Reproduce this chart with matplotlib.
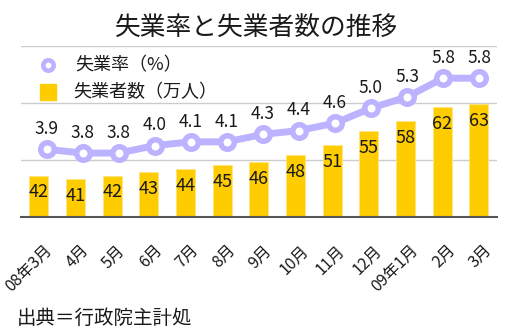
import numpy as np
import matplotlib
matplotlib.use('Agg')
import matplotlib.pyplot as plt
from matplotlib.lines import Line2D
from matplotlib.transforms import ScaledTranslation

plt.rcParams['font.family'] = ['Noto Sans CJK JP', 'DejaVu Sans']

# data
months = ['08年3月', '4月', '5月', '6月', '7月', '8月', '9月', '10月',
          '11月', '12月', '09年1月', '2月', '3月']
unemp_rate = [3.9, 3.8, 3.8, 4.0, 4.1, 4.1, 4.3, 4.4, 4.6, 5.0, 5.3, 5.8, 5.8]
unemp_count = [42, 41, 42, 43, 44, 45, 46, 48, 51, 55, 58, 62, 63]

LAV = '#bbb3ff'
GOLD = '#ffcc00'
TXT = '#1a1a1a'

fig = plt.figure(figsize=(5.06, 3.35), dpi=100)
rect = [0.0421, 0.3531, 0.9407, 0.5096]

# bars (unemployed, 10k people)
ax = fig.add_axes(rect)
x = np.arange(len(months))
ax.bar(x, unemp_count, width=0.52, color=GOLD, edgecolor='#ffe680', linewidth=0.6, zorder=2)
ax.set_xlim(-0.48, 12.5)
ax.set_ylim(30, 80)
ax.set_yticks(np.linspace(30, 80, 4))
ax.yaxis.grid(True, color='#cccccc', linewidth=1)
ax.set_axisbelow(True)
ax.tick_params(axis='y', left=False, labelleft=False)
for s in ['left', 'right', 'top']:
    ax.spines[s].set_visible(False)
ax.spines['bottom'].set_color('#555555')
ax.spines['bottom'].set_linewidth(1.5)
ax.set_xticks(x)
ax.set_xticklabels(months, rotation=45, ha='right', va='center',
                   rotation_mode='anchor', fontsize=11.5, color=TXT)
ax.tick_params(axis='x', length=0, pad=22.5)
shift = ScaledTranslation(7.5 / 72, 0, fig.dpi_scale_trans)
for lbl in ax.get_xticklabels():
    lbl.set_transform(lbl.get_transform() + shift)
for xi, v in zip(x, unemp_count):
    ax.annotate(str(v), (xi, v), xytext=(0, -12), textcoords='offset points',
                ha='center', va='center', fontsize=13, color=TXT)

# line (unemployment rate %)
ax2 = fig.add_axes(rect)
ax2.patch.set_visible(False)
ax2.axis('off')
ax2.set_xlim(-0.705, 12.506)
ax2.set_ylim(2.1, 6.66)
ax2.plot(x, unemp_rate, color=LAV, linewidth=5, marker='o', markersize=9.75,
         markerfacecolor='white', markeredgecolor=LAV, markeredgewidth=3.95,
         zorder=3)
for xi, v in zip(x, unemp_rate):
    ax2.annotate(f'{v:.1f}', (xi, v), xytext=(0, 14.5), textcoords='offset points',
                 ha='center', va='center', fontsize=12.5, color=TXT)

# legend
fig.add_artist(Line2D([0.0949], [0.806], marker='o', markersize=7.5,
                      markerfacecolor='white', markeredgecolor=LAV,
                      markeredgewidth=3.3, linestyle='none'))
fig.add_artist(Line2D([0.0958], [0.7254], marker='s', markersize=12,
                      color=GOLD, linestyle='none'))
fig.text(0.148, 0.806, '失業率（%）', fontsize=13, va='center', color=TXT)
fig.text(0.144, 0.7254, '失業者数（万人）', fontsize=13, va='center', color=TXT)

fig.text(0.507, 0.918, '失業率と失業者数の推移', fontsize=18.5, ha='center',
         va='center', color=TXT)
fig.text(0.0336, 0.0507, '出典＝行政院主計処', fontsize=14, va='center', color=TXT)

plt.savefig('out.png', dpi=100)
